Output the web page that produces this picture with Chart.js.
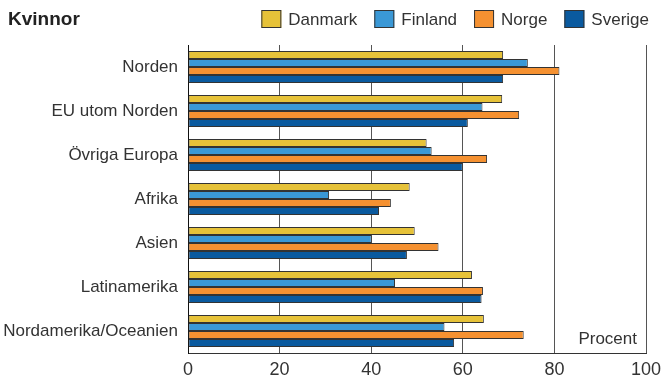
<!doctype html>
<html lang="sv">
<head>
    <meta charset="utf-8">
    <title>Kvinnor</title>
    <style>
        html, body { margin: 0; padding: 0; background: #fff; }
        #container { width: 664px; height: 380px; }
    </style>
</head>
<body>
    <div id="container">
        <canvas id="myChart" width="664" height="380"></canvas>
    </div>

    <script src="https://cdn.jsdelivr.net/npm/chart.js@4.4.1/dist/chart.umd.min.js"></script>
    <script>
        // regioner (kategorier)
        let regions = ['Norden', 'EU utom Norden', 'Övriga Europa', 'Afrika', 'Asien', 'Latinamerika', 'Nordamerika/Oceanien'];

        // andel i procent per land
        let danmark = [68.8, 68.6, 52.1, 48.4, 49.5, 62.0, 64.6];
        let finland = [74.2, 64.3, 53.2, 30.8, 40.1, 45.2, 56.0];
        let norge   = [81.1, 72.3, 65.3, 44.3, 54.7, 64.4, 73.3];
        let sverige = [68.8, 61.1, 60.0, 41.7, 47.8, 64.1, 58.1];

        let xTicks = [0, 20, 40, 60, 80, 100];

        const FONT = '"Liberation Sans", Arial, sans-serif';
        const TEXT = '#333';

        // rubrik, teckenförklaring och enhet
        const extraText = {
            id: 'extraText',
            afterDraw(chart) {
                const ctx = chart.ctx;
                const area = chart.chartArea;
                ctx.save();
                ctx.textBaseline = 'middle';

                ctx.fillStyle = '#222';
                ctx.font = 'bold 19px ' + FONT;
                ctx.textAlign = 'left';
                ctx.fillText('Kvinnor', 8, 20);

                // teckenförklaring, högerställd
                ctx.font = '17px ' + FONT;
                const boxW = 20, boxH = 18, gap = 7, spacing = 17;
                const sets = chart.data.datasets;
                let x = 649;
                for (let i = sets.length - 1; i >= 0; i--) {
                    const w = ctx.measureText(sets[i].label).width;
                    x -= w;
                    ctx.fillStyle = TEXT;
                    ctx.fillText(sets[i].label, x, 20);
                    x -= gap + boxW;
                    ctx.fillStyle = sets[i].backgroundColor;
                    ctx.fillRect(x, 10, boxW, boxH);
                    ctx.strokeStyle = '#333';
                    ctx.lineWidth = 1;
                    ctx.strokeRect(x + 0.5, 10.5, boxW - 1, boxH - 1);
                    x -= spacing;
                }

                ctx.fillStyle = TEXT;
                ctx.textAlign = 'right';
                ctx.fillText('Procent', area.right - 9, area.bottom - 14);
                ctx.restore();
            }
        };

        function makeSet(label, values, color) {
            return {
                label: label,
                data: values,
                backgroundColor: color,
                borderColor: '#333',
                borderWidth: 1,
                borderSkipped: false,
                categoryPercentage: 0.727,
                barPercentage: 1.0
            };
        }

        let ctx = document.getElementById('myChart').getContext('2d');
        let myChart = new Chart(ctx, {
            type: 'bar',
            data: {
                labels: regions,
                datasets: [
                    makeSet('Danmark', danmark, '#E6C239'),
                    makeSet('Finland', finland, '#3A98D6'),
                    makeSet('Norge', norge, '#F59131'),
                    makeSet('Sverige', sverige, '#0A5A9F')
                ]
            },
            options: {
                indexAxis: 'y',
                responsive: false,
                animation: false,
                layout: {
                    padding: { top: 45, right: 18, bottom: 0, left: 0 }
                },
                plugins: {
                    tooltip: { enabled: false },
                    legend: { display: false }
                },
                scales: {
                    x: {
                        min: 0,
                        max: 100,
                        afterBuildTicks(scale) {
                            scale.ticks = xTicks.map(v => ({ value: v }));
                        },
                        afterFit(scale) {
                            scale.height = 27;
                        },
                        grid: {
                            color: '#555',
                            lineWidth: 1,
                            drawTicks: false
                        },
                        border: { display: true, color: '#333', width: 1 },
                        ticks: {
                            padding: 0,
                            color: TEXT,
                            font: { family: FONT, size: 18, lineHeight: 1.9 }
                        }
                    },
                    y: {
                        afterFit(scale) {
                            scale.width = 188;
                        },
                        grid: { display: false, drawTicks: false },
                        border: { display: true, color: '#111', width: 1 },
                        ticks: {
                            padding: 10,
                            color: TEXT,
                            font: { family: FONT, size: 17 }
                        }
                    }
                }
            },
            plugins: [extraText]
        });
    </script>
</body>
</html>
